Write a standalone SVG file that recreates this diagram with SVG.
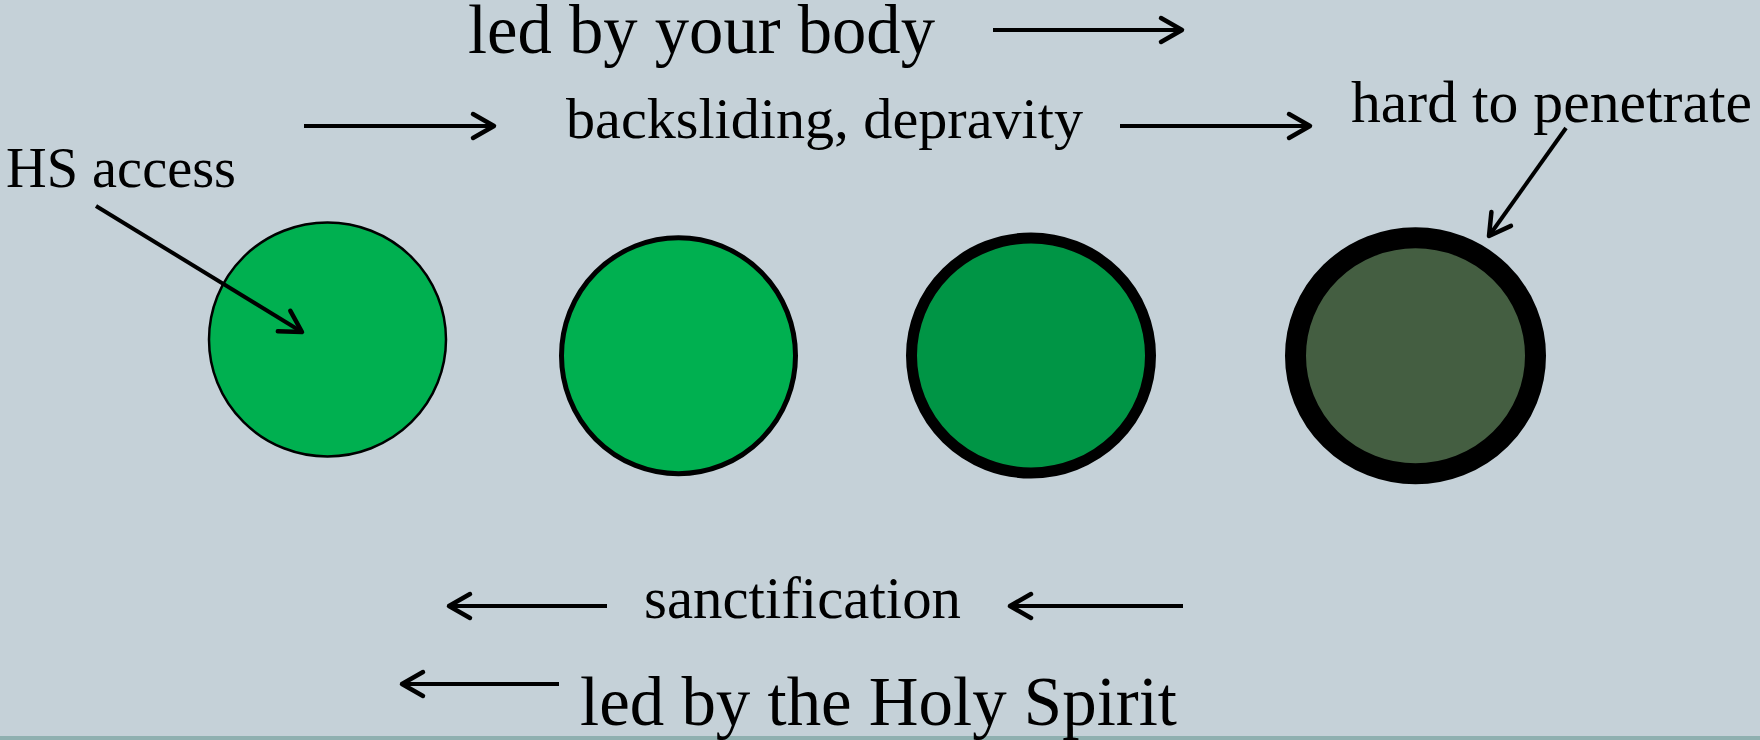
<svg xmlns="http://www.w3.org/2000/svg" width="1760" height="740" viewBox="0 0 1760 740">
<style>
.t{font-family:"Liberation Serif","Times New Roman",serif;fill:#000}
.c{stroke:#000;stroke-width:4;fill:none}
.node{stroke:#000}
</style>
<defs>
<marker id="ah" markerUnits="userSpaceOnUse" markerWidth="40" markerHeight="40" viewBox="-30 -20 40 40" refX="0" refY="0" orient="auto">
<path d="M-21,-12 L0,0 L-21,12" fill="none" stroke="#000" stroke-width="4.5" stroke-linecap="round" stroke-linejoin="round"/>
</marker>
</defs>
<rect x="0" y="0" width="1760" height="740" fill="#c5d1d8"/>
<rect x="0" y="736" width="1760" height="4" fill="#8fb0b0"/>

<g id="node1"><ellipse cx="327.5" cy="339.5" rx="118.5" ry="117" fill="#00b050" class="node" stroke-width="2.5"/></g>
<g id="node2"><ellipse cx="678.5" cy="355.7" rx="117" ry="118" fill="#00b050" class="node" stroke-width="5"/></g>
<g id="node3"><ellipse cx="1031" cy="355.5" rx="119.5" ry="117.5" fill="#009545" class="node" stroke-width="11"/></g>
<g id="node4"><ellipse cx="1415.5" cy="355.8" rx="120" ry="118" fill="#445e41" class="node" stroke-width="21"/></g>

<g id="labels">
<text class="t" x="468" y="53" font-size="69" textLength="467" lengthAdjust="spacingAndGlyphs">led by your body</text>
<text class="t" x="566" y="138" font-size="58" textLength="517" lengthAdjust="spacingAndGlyphs">backsliding, depravity</text>
<text class="t" x="1351" y="122" font-size="59" textLength="401" lengthAdjust="spacingAndGlyphs">hard to penetrate</text>
<text class="t" x="6" y="187" font-size="56" textLength="230" lengthAdjust="spacingAndGlyphs">HS access</text>
<text class="t" x="644" y="618" font-size="59" textLength="317" lengthAdjust="spacingAndGlyphs">sanctification</text>
<text class="t" x="580" y="725" font-size="69" textLength="597" lengthAdjust="spacingAndGlyphs">led by the Holy Spirit</text>
</g>

<g id="connectors">
<line class="c" x1="993" y1="30" x2="1182" y2="30" marker-end="url(#ah)"/>
<line class="c" x1="304" y1="126" x2="494" y2="126" marker-end="url(#ah)"/>
<line class="c" x1="1120" y1="126" x2="1310" y2="126" marker-end="url(#ah)"/>
<line class="c" x1="96" y1="206" x2="302" y2="332" marker-end="url(#ah)"/>
<line class="c" x1="1566" y1="128" x2="1489" y2="236" marker-end="url(#ah)"/>
<line class="c" x1="607" y1="606" x2="449" y2="606" marker-end="url(#ah)"/>
<line class="c" x1="1183" y1="606" x2="1010" y2="606" marker-end="url(#ah)"/>
<line class="c" x1="559" y1="684" x2="402" y2="684" marker-end="url(#ah)"/>
</g>
</svg>
